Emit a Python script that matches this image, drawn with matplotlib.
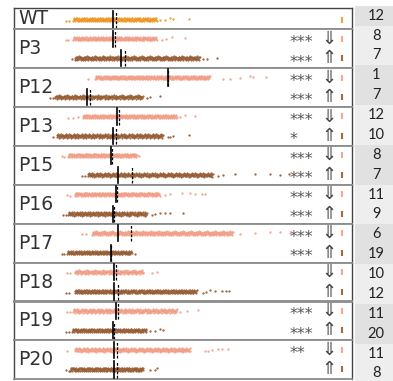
import numpy as np
import matplotlib
matplotlib.use("Agg")
import matplotlib.pyplot as plt

# ---------------------------------------------------------------- data
groups = ["WT", "P3", "P12", "P13", "P15", "P16", "P17", "P18", "P19", "P20"]

# dense core range (lo, hi) of each strip, top row first, bottom row second
core_top = [(17.5, 42.3), (17.5, 42.3), (24.0, 58.0), (20.4, 48.2), (16.0, 36.4),
            (18.0, 43.2), (23.1, 64.8), (18.0, 38.2), (17.5, 48.2), (18.0, 52.1)]
core_bot = [None, (18.0, 55.0), (12.1, 38.2), (12.7, 44.1), (21.9, 58.9),
            (16.0, 39.3), (15.7, 34.9), (18.0, 54.1), (17.2, 39.3), (16.6, 38.2)]

# sparse points outside the dense core
tail_top = [
    [15.4, 16.3, 43.2, 44.7, 46.2, 47.0, 51.8],
    [15.4, 16.0, 43.8, 45.0, 46.7, 50.6],
    [21.9, 61.8, 63.9, 66.9, 69.8, 70.7, 74.6],
    [16.0, 17.5, 18.9, 49.1, 50.6, 53.6],
    [14.2, 14.8, 37.0],
    [15.7, 16.6, 44.7, 46.2, 49.7, 52.1, 53.6, 55.6, 56.5],
    [20.1, 21.3, 66.9, 71.3, 75.7, 78.7, 81.7],
    [15.7, 16.6, 40.8, 42.3],
    [15.7, 16.6, 49.1, 51.2, 54.4],
    [15.7, 56.5, 57.4, 58.6, 60.4, 61.5, 63.3],
]
tail_bot = [
    [],
    [17.2, 55.9, 57.1, 60.1],
    [10.7, 11.5, 39.3, 40.2, 43.2],
    [11.5, 45.6, 46.2, 47.0, 51.8],
    [20.1, 21.0, 60.4, 61.8, 65.4, 71.3, 75.7, 78.7, 81.4],
    [14.5, 15.4, 40.8, 41.7, 43.2, 44.7, 46.2, 50.0],
    [14.2, 14.8, 35.8],
    [15.4, 16.3, 55.9, 56.8, 58.0, 59.5, 61.5, 62.7, 63.6],
    [15.4, 16.3, 40.2, 41.7, 43.2, 44.1],
    [15.4, 16.3, 40.2, 41.7, 42.3],
]

median_top = [29.3, 29.2, 45.5, 30.4, 28.8, 30.1, 30.7, 29.7, 30.2, 29.7]
mean_top = [30.2, 29.8, 45.7, 31.0, 28.9, 30.6, 34.6, 30.3, 30.9, 30.4]
median_bot = [None, 31.6, 21.7, 29.4, 30.8, 29.2, 28.7, 29.7, 29.2, 29.7]
mean_bot = [None, 32.8, 22.5, 30.2, 34.8, 29.7, 28.8, 30.7, 29.7, 30.4]

stars_top = ["", "***", "***", "***", "***", "***", "***", "", "***", "**"]
stars_bot = ["", "***", "***", "*", "***", "***", "***", "", "***", ""]

counts = [12, 8, 7, 1, 7, 12, 10, 8, 7, 11, 9, 6, 19, 10, 12, 11, 20, 11, 8]
header_count = "13"

# ---------------------------------------------------------------- style
C_WT = "#f7a32e"
C_TOP = "#f6a98f"
C_BOT = "#a8673a"
# vertical scatter offsets used to spread overlapping dots into a band
JITTER = np.array([-0.07, 0.03, 0.08, -0.02, 0.05, -0.08, 0.01, 0.06, -0.04,
                   0.09, -0.06, 0.0, 0.04, -0.09, 0.07, -0.01, -0.05, 0.02])

W, H = 393, 381
fig = plt.figure(figsize=(W / 100, H / 100), dpi=100)

def strip(ax, y, core, tail, color, edge):
    if core is not None:
        xs = np.arange(core[0], core[1], 0.13)
        ys = y + JITTER[np.arange(len(xs)) % len(JITTER)]
        ax.scatter(xs, ys, s=1.6, color=color, edgecolors=edge, linewidths=0.2, zorder=2)
    if tail:
        tx = np.asarray(tail)
        ty = y + JITTER[(np.arange(len(tx)) * 5) % len(JITTER)] * 0.8
        ax.scatter(tx, ty, s=1.8, color=color, edgecolors=edge, linewidths=0.2, zorder=2)

def centre_lines(ax, y, med, mn):
    if mn is not None:
        ax.plot([mn, mn], [y - 0.42, y + 0.42], color="black", lw=0.9,
                ls=(0, (2.2, 1.2)), zorder=4)
    if med is not None:
        ax.plot([med, med], [y - 0.42, y + 0.42], color="black", lw=1.2, zorder=5)

def side_marks(ax, y, stars, arrow, color):
    tr = ax.get_yaxis_transform()
    if stars:
        ax.text(0.815, y - 0.2, stars, transform=tr, ha="left", va="center",
                fontsize=11.5, color="#555555", family="DejaVu Sans")
    ax.text(0.932, y, arrow, transform=tr, ha="center", va="center",
            fontsize=13, color="#444444", family="DejaVu Sans")
    ax.plot([0.970], [y], transform=tr, marker="|", ms=4, mew=1.5,
            color=color, clip_on=False)

left = 14 / W
width = 338 / W
step = 38.9
for i, g in enumerate(groups):
    if i == 0:
        top_px, bot_px = 8.0, 29.2
    else:
        top_px = 29.2 + step * (i - 1)
        bot_px = top_px + step
    ax = fig.add_axes([left, 1 - bot_px / H, width, (bot_px - top_px) / H])
    ax.set_xlim(0, 100)
    if i == 0:
        ax.set_ylim(-0.497, 0.59)
        strip(ax, 0, core_top[0], tail_top[0], C_WT, "#e08a1a")
        centre_lines(ax, 0, median_top[0], mean_top[0])
        ax.plot([0.970], [0], transform=ax.get_yaxis_transform(), marker="|",
                ms=4, mew=1.5, color=C_WT)
    else:
        ax.set_ylim(-0.508, 1.487)
        strip(ax, 1, core_top[i], tail_top[i], C_TOP, "#ec917a")
        strip(ax, 0, core_bot[i], tail_bot[i], C_BOT, "#80502e")
        centre_lines(ax, 1, median_top[i], mean_top[i])
        centre_lines(ax, 0, median_bot[i], mean_bot[i])
        side_marks(ax, 1, stars_top[i], "\u21d3", C_TOP)
        side_marks(ax, 0, stars_bot[i], "\u21d1", C_BOT)
    ax.text(0.012, 0.5, g, transform=ax.transAxes, ha="left", va="center",
            fontsize=13.5, color="#333333", family="DejaVu Sans")
    ax.set_xticks([])
    ax.set_yticks([])
    for side in ("top", "bottom"):
        ax.spines[side].set_color("#8c8c8c")
        ax.spines[side].set_linewidth(1.3)
    for side in ("left", "right"):
        ax.spines[side].set_color("#444444")
        ax.spines[side].set_linewidth(1.0)
    if i == 0:
        ax.spines["top"].set_color("#444444")
        ax.spines["top"].set_linewidth(1.0)

# ---------------------------------------------------------------- count column
cax = fig.add_axes([355 / W, 0, 1 - 355 / W, 1])
cax.set_xlim(0, 1)
cax.set_ylim(18.38, -0.79)
cax.axis("off")
spans = [(-0.5, 0.5)] + [(2 * k + 0.5, 2 * k + 2.5) for k in range(9)]
for k, (a, b) in enumerate(spans):
    cax.axhspan(a, b, color="#e1e1e1" if k % 2 == 0 else "#eeeeee", lw=0)
for k, n in enumerate(counts):
    cax.text(0.553, k, str(n), ha="center", va="center", fontsize=10.5,
             color="#222222", family="Lato")
cax.text(0.553, -1, header_count, ha="center", va="center", fontsize=10.5,
         color="#222222", family="Lato", clip_on=False)

fig.savefig("out.png", dpi=100)
